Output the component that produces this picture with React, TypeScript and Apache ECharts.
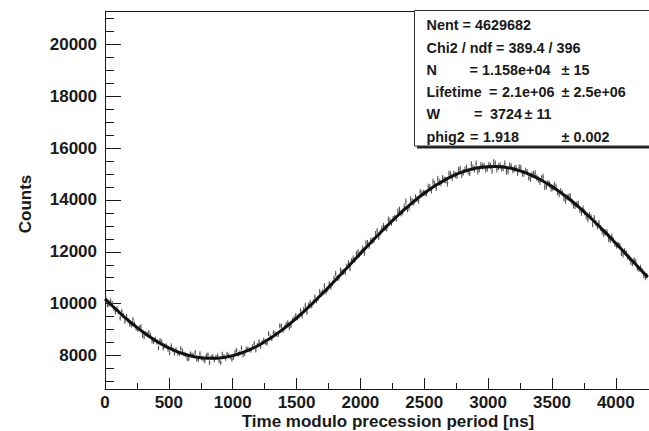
import React, { useEffect, useRef } from "react";
import * as echarts from "echarts";

// ---- data ----
const BIN_WIDTH = 12.5; // ns
const counts = [
  10188, 9958, 9968, 10100, 10011, 9814, 9686, 9809, 9692, 9446, 9700, 9536, 9322, 9509, 9346, 9215, 9174, 9384, 9214, 9056,
  9007, 9071, 9114, 8779, 8714, 8841, 8807, 8896, 8774, 8555, 8535, 8627, 8509, 8293, 8587, 8533, 8289, 8377, 8375, 8235,
  8105, 8378, 8230, 8085, 8229, 8096, 8062, 8281, 8179, 8060, 8021, 7875, 7868, 8074, 8029, 7997, 8124, 7854, 7844, 8077,
  7909, 7854, 7789, 7996, 8033, 7723, 7932, 7964, 7825, 7930, 7994, 7791, 7727, 8056, 7964, 7886, 8057, 7991, 7944, 7850,
  7925, 8143, 8210, 8051, 8111, 8294, 8016, 8071, 8255, 8252, 8208, 8207, 8346, 8477, 8208, 8391, 8534, 8349, 8504, 8601,
  8508, 8467, 8845, 8716, 8647, 8890, 8842, 8817, 8801, 9147, 9132, 8960, 9067, 9197, 9266, 9067, 9158, 9361, 9433, 9537,
  9450, 9525, 9730, 9536, 9782, 9940, 9667, 9946, 10044, 9914, 10063, 10254, 10114, 10206, 10467, 10389, 10471, 10684, 10456, 10560,
  10763, 10637, 10781, 10976, 11160, 10995, 10990, 11286, 11231, 11217, 11202, 11438, 11574, 11350, 11655, 11751, 11677, 11923, 11998, 11894,
  11979, 12124, 11949, 12344, 12349, 12224, 12428, 12432, 12446, 12690, 12803, 12566, 12738, 12900, 13002, 12924, 12895, 13246, 13196, 13116,
  13265, 13303, 13280, 13557, 13624, 13481, 13547, 13742, 13936, 13639, 13711, 14024, 13946, 13898, 14099, 14038, 13967, 14304, 14230, 14276,
  14261, 14255, 14508, 14490, 14362, 14702, 14622, 14461, 14809, 14675, 14641, 14836, 14780, 14763, 14635, 15016, 14987, 14846, 15005, 14962,
  14928, 15152, 15195, 14967, 15069, 15169, 15238, 15096, 15043, 15369, 15244, 15187, 15400, 15101, 15181, 15349, 15287, 15313, 15178, 15212,
  15346, 15308, 15129, 15448, 15397, 15184, 15280, 15334, 15218, 15230, 15401, 15091, 15111, 15329, 15286, 15151, 15206, 15229, 15051, 15251,
  15231, 15020, 15018, 15124, 15070, 14864, 14817, 14968, 14999, 15028, 14857, 14784, 14701, 14837, 14892, 14497, 14521, 14645, 14598, 14439,
  14459, 14576, 14513, 14309, 14225, 14341, 14266, 14060, 13973, 14104, 14115, 14145, 13935, 13784, 13762, 13829, 13856, 13612, 13507, 13671,
  13525, 13368, 13250, 13421, 13332, 13063, 13303, 13103, 12982, 13111, 12919, 12777, 12685, 12752, 12758, 12485, 12451, 12587, 12443, 12299,
  12234, 12269, 12233, 11948, 11882, 12027, 11951, 11796, 11750, 11596, 11551, 11686, 11611, 11376, 11330, 11395, 11259, 11094, 11008, 11073,
];

const FIT_STEP = 50; // ns
const fitValues = [
  10187, 9949, 9718, 9494, 9284, 9084, 8897, 8724, 8565, 8421,
  8293, 8182, 8088, 8012, 7954, 7914, 7894, 7891, 7908, 7943,
  7997, 8068, 8158, 8265, 8389, 8529, 8684, 8855, 9038, 9235,
  9445, 9665, 9894, 10133, 10378, 10629, 10885, 11145, 11408, 11671,
  11934, 12194, 12452, 12706, 12954, 13197, 13428, 13653, 13864, 14070,
  14257, 14431, 14593, 14737, 14868, 14984, 15079, 15158, 15219, 15261,
  15284, 15290, 15276, 15243, 15193, 15123, 15036, 14930, 14806, 14667,
  14522, 14350, 14171, 13977, 13770, 13552, 13322, 13083, 12838, 12585,
  12329, 12068, 11805, 11546, 11284, 11023,
];

const xMajorTicks = [0, 500, 1000, 1500, 2000, 2500, 3000, 3500, 4000];
const xMinorTicks = [250, 750, 1250, 1750, 2250, 2750, 3250, 3750];
const yMajorTicks = [8000, 10000, 12000, 14000, 16000, 18000, 20000];
const yMinorTicks = [
  7000, 7500, 8500, 9000, 9500, 10500, 11000, 11500, 12500, 13000, 13500,
  14500, 15000, 15500, 16500, 17000, 17500, 18500, 19000, 19500, 20500, 21000,
];

const statsLines = ["Nent = 4629682", "Chi2 / ndf = 389.4 / 396"];
const statsNames = ["N", "Lifetime", "W", "phig2"];
const statsValues = ["1.158e+04", "2.1e+06", "3724", "1.918"];
const statsErrors = ["± 15", "± 2.5e+06", "± 11", "± 0.002"];

const X_MIN = 0;
const X_MAX = 4260;
const Y_MIN = 6710;
const Y_MAX = 21285;

const FONT = "Liberation Sans, Arial, Helvetica, sans-serif";
const INK = "#1a1a1a";

export default function App() {
  const ref = useRef<HTMLDivElement>(null);

  useEffect(() => {
    if (!ref.current) return;
    const chart = echarts.init(ref.current, undefined, { renderer: "svg" });

    const histData = counts.map((c, i) => [(i + 0.5) * BIN_WIDTH, c]);
    const fitData = fitValues.map((v, i) => [i * FIT_STEP, v]);

    const txt = (text: string, x: number, y: number, size: number) => ({
      type: "text",
      x,
      y,
      z: 10,
      style: {
        text,
        fill: INK,
        font: `bold ${size}px ${FONT}`,
        align: "left",
        verticalAlign: "middle",
        textAlign: "left",
        textVerticalAlign: "middle",
      },
    });

    const statsY = [25, 47.7, 70, 91.7, 114.3, 136.7];
    const SX = 426.5;
    const SF = 14.4;
    // x positions (px) of "=", value and error in each parameter row
    const eqX = [469.5, 489, 474, 470];
    const valX = [482, 502, 490, 483];
    const errX = [561.5, 561.5, 524.5, 561.5];
    const statsGraphics: any[] = [];
    statsLines.forEach((l, i) => statsGraphics.push(txt(l, SX, statsY[i], SF)));
    statsNames.forEach((n, i) => {
      const y = statsY[i + 2];
      statsGraphics.push(txt(n, SX, y, SF));
      statsGraphics.push(txt("=", eqX[i], y, SF));
      statsGraphics.push(txt(statsValues[i], valX[i], y, SF));
      statsGraphics.push(txt(statsErrors[i], errX[i], y, SF));
    });

    const fmt = (v: number) => String(Math.round(v));

    chart.setOption({
      animation: false,
      backgroundColor: "#ffffff",
      grid: { left: 105, top: 11, right: -3, bottom: 42, containLabel: false },
      xAxis: [
        {
          type: "value",
          min: X_MIN,
          max: X_MAX,
          axisLine: { show: true, onZero: false, lineStyle: { color: INK, width: 1 } },
          axisTick: {
            show: true,
            inside: true,
            length: 11,
            customValues: xMajorTicks,
            lineStyle: { color: INK, width: 1 },
          },
          axisLabel: {
            show: true,
            customValues: xMajorTicks,
            formatter: fmt,
            margin: 5,
            color: INK,
            fontFamily: FONT,
            fontWeight: "bold",
            fontSize: 17,
          },
          splitLine: { show: false },
        },
        {
          type: "value",
          min: X_MIN,
          max: X_MAX,
          position: "bottom",
          axisLine: { show: false },
          axisTick: {
            show: true,
            inside: true,
            length: 6,
            customValues: xMinorTicks,
            lineStyle: { color: INK, width: 1 },
          },
          axisLabel: { show: false },
          splitLine: { show: false },
        },
      ],
      yAxis: [
        {
          type: "value",
          min: Y_MIN,
          max: Y_MAX,
          axisLine: { show: true, onZero: false, lineStyle: { color: INK, width: 1 } },
          axisTick: {
            show: true,
            inside: true,
            length: 16,
            customValues: yMajorTicks,
            lineStyle: { color: INK, width: 1 },
          },
          axisLabel: {
            show: true,
            customValues: yMajorTicks,
            formatter: fmt,
            margin: 8,
            color: INK,
            fontFamily: FONT,
            fontWeight: "bold",
            fontSize: 17,
          },
          splitLine: { show: false },
        },
        {
          type: "value",
          min: Y_MIN,
          max: Y_MAX,
          position: "left",
          axisLine: { show: false },
          axisTick: {
            show: true,
            inside: true,
            length: 9,
            customValues: yMinorTicks,
            lineStyle: { color: INK, width: 1 },
          },
          axisLabel: { show: false },
          splitLine: { show: false },
        },
      ],
      series: [
        {
          type: "custom",
          name: "hist",
          xAxisIndex: 0,
          yAxisIndex: 0,
          clip: true,
          data: histData,
          renderItem: (params: any, api: any) => {
            const x = api.value(0);
            const y = api.value(1);
            const e = Math.sqrt(y);
            const pTop = api.coord([x, y + e]);
            const pBot = api.coord([x, y - e]);
            const pL = api.coord([x - BIN_WIDTH / 2, y]);
            const pR = api.coord([x + BIN_WIDTH / 2, y]);
            return {
              type: "group",
              children: [
                {
                  type: "line",
                  shape: { x1: pTop[0], y1: pTop[1], x2: pBot[0], y2: pBot[1] },
                  style: { stroke: "#3a3a3a", lineWidth: 0.9 },
                },
                {
                  type: "line",
                  shape: { x1: pL[0], y1: pL[1], x2: pR[0], y2: pR[1] },
                  style: { stroke: "#555555", lineWidth: 0.8 },
                },
              ],
            };
          },
          z: 2,
        },
        {
          type: "line",
          name: "fit",
          xAxisIndex: 0,
          yAxisIndex: 0,
          data: fitData,
          smooth: 0.3,
          showSymbol: false,
          symbol: "none",
          clip: true,
          lineStyle: { color: "#111111", width: 3 },
          z: 3,
        },
      ],
      graphic: [
        {
          type: "line",
          z: 5,
          shape: { x1: 105, y1: 11.5, x2: 660, y2: 11.5 },
          style: { stroke: INK, lineWidth: 1 },
        },
        {
          type: "rect",
          z: 8,
          shape: { x: 417, y: 146, width: 260, height: 2.5 },
          style: { fill: "#222222" },
        },
        {
          type: "rect",
          z: 9,
          shape: { x: 414.5, y: 10.5, width: 260, height: 135.5 },
          style: { fill: "#ffffff", stroke: "#333333", lineWidth: 1 },
        },
        ...statsGraphics,
        {
          type: "text",
          x: 388,
          y: 421.5,
          z: 10,
          style: {
            text: "Time modulo precession period [ns]",
            fill: INK,
            font: `bold 17px ${FONT}`,
            align: "center",
            verticalAlign: "middle",
            textAlign: "center",
            textVerticalAlign: "middle",
          },
        },
        {
          type: "text",
          x: 25,
          y: 204,
          rotation: Math.PI / 2,
          z: 10,
          style: {
            text: "Counts",
            fill: INK,
            font: `bold 17px ${FONT}`,
            align: "center",
            verticalAlign: "middle",
            textAlign: "center",
            textVerticalAlign: "middle",
          },
        },
      ],
    });

    return () => {
      chart.dispose();
    };
  }, []);

  return (
    <div
      ref={ref}
      style={{
        position: "fixed",
        left: 0,
        top: 0,
        width: 649,
        height: 431,
        background: "#ffffff",
      }}
    />
  );
}
